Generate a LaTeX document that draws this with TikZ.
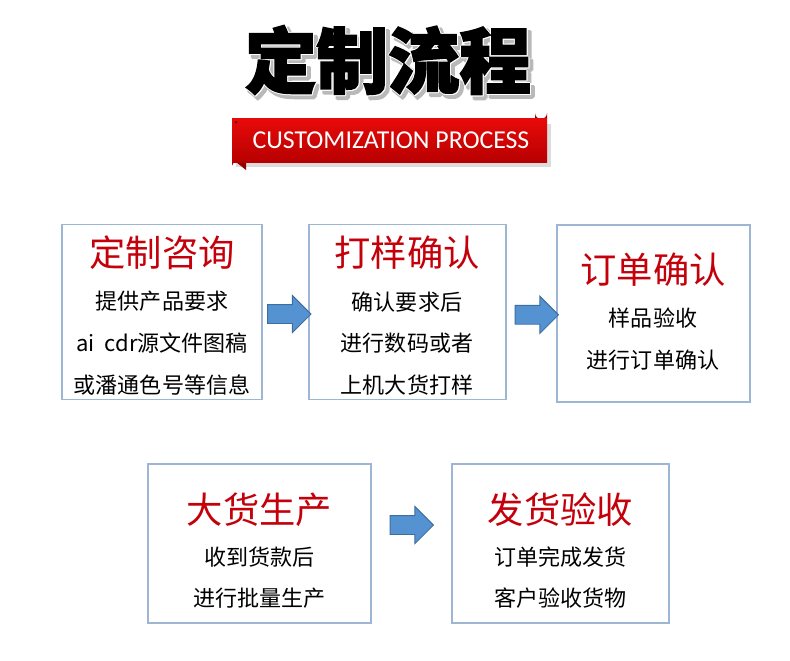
\documentclass[tikz,border=0pt]{standalone}
\usepackage{fontspec}
\usepackage{tikz}
\usetikzlibrary{shapes,arrows.meta,positioning,calc}
\usepackage{xcolor}
\setmainfont{Carlito}
\newfontfamily\cjk{Noto Sans CJK SC}
\newfontfamily\cjkhead[BoldFeatures={FakeBold=2.5}]{Noto Sans CJK SC}

\definecolor{boxline}{HTML}{9DB6D4}
\definecolor{headred}{HTML}{C4000B}
\definecolor{arrowfill}{HTML}{5592D2}
\definecolor{arrowline}{HTML}{3E6E9F}
\definecolor{ribbontop}{HTML}{E80A0A}
\definecolor{ribbonbot}{HTML}{B80000}

\tikzset{
  stepbox/.style={draw=boxline, line width=1.3pt, fill=white, inner sep=0pt},
  stephead/.style={font=\cjk\fontsize{31}{31}\selectfont, text=headred, inner sep=0pt},
  steptext/.style={font=\cjk\fontsize{18.8}{18.8}\selectfont, inner sep=0pt},
  bigtitle/.style={font=\cjkhead\bfseries\fontsize{61}{61}\selectfont},
  flowarrow/.style={single arrow, draw=arrowline, fill=arrowfill, line width=0.8pt,
    inner sep=0.27cm, minimum height=1.3cm, single arrow head extend=0.27cm}
}

\begin{document}
\begin{tikzpicture}[x=0.03cm, y=-0.03cm]
    % Page (white background fixes the size)
    \fill[white] (0,0) rectangle (790,660);
    \useasboundingbox (0,0) rectangle (790,660);

    % Heading with grey and white outline
    \foreach \dx/\dy in {3/3, 4/2, 2/4, 4/4, 3/5, 5/3}
        \node[bigtitle, text=gray!55] at (388+\dx,60+\dy) {定制流程};
    \foreach \dx/\dy in {1/0, -1/0, 0/1, 0/-1, 1/1}
        \node[bigtitle, text=white] at (388+\dx,60+\dy) {定制流程};
    \node[bigtitle] (title) at (388,60) {定制流程};

    % Red ribbon
    \fill[gray!45, opacity=0.6] (236,124) rectangle (551,167);
    \fill[ribbonbot!80!black] (232,160) -- (232,166) arc[start angle=180, end angle=270, radius=4]
        -- (246,170) -- (246,160) -- cycle;
    \fill[ribbonbot!80!black] (535,118) -- (535,113) arc[start angle=180, end angle=0, radius=6]
        -- (547,118) -- cycle;
    \shade[top color=ribbontop, bottom color=ribbonbot] (232,118) rectangle (547,162);
    \fill[ribbonbot!60!black] (236,122) circle[radius=1.5];
    \node[font=\fontsize{22}{22}\selectfont, text=white] (banner) at (391,140) {CUSTOMIZATION PROCESS};

    % Step boxes
    \node[stepbox, minimum width=200*0.03cm, minimum height=175*0.03cm] (consult) at (162,312) {};
    \node[stepbox, minimum width=197*0.03cm, minimum height=175*0.03cm] (sample) at (407.5,312) {};
    \node[stepbox, minimum width=193*0.03cm, minimum height=177*0.03cm] (order) at (653.5,313.5) {};
    \node[stepbox, minimum width=223*0.03cm, minimum height=159*0.03cm] (produce) at (259.5,543.5) {};
    \node[stepbox, minimum width=217*0.03cm, minimum height=159*0.03cm] (deliver) at (560.5,543.5) {};

    % Texts of the boxes
    \node[stephead] (consult-h) at (162,253) {定制咨询};
    \node[steptext] (consult-1) at (162,301) {提供产品要求};
    \node[steptext] (consult-2) at (162,343) {ai\ \ cdr源文件图稿};
    \node[steptext] (consult-3) at (162,385) {或潘通色号等信息};

    \node[stephead] (sample-h) at (407,253) {打样确认};
    \node[steptext] (sample-1) at (407,302) {确认要求后};
    \node[steptext] (sample-2) at (407,343) {进行数码或者};
    \node[steptext] (sample-3) at (407,385) {上机大货打样};

    \node[stephead] (order-h) at (653,270) {订单确认};
    \node[steptext] (order-1) at (653,318) {样品验收};
    \node[steptext] (order-2) at (653,360) {进行订单确认};

    \node[stephead] (produce-h) at (259.5,510) {大货生产};
    \node[steptext] (produce-1) at (259.5,557) {收到货款后};
    \node[steptext] (produce-2) at (259.5,598) {进行批量生产};

    \node[stephead] (deliver-h) at (560.5,510) {发货验收};
    \node[steptext] (deliver-1) at (560.5,557) {订单完成发货};
    \node[steptext] (deliver-2) at (560.5,598) {客户验收货物};

    % Block arrows between the boxes
    \node[flowarrow] (a1) at ($(consult.east)!0.5!(sample.west)+(-1,2)$) {};
    \node[flowarrow] (a2) at ($(sample.east)!0.5!(order.west)+(0.5,2)$) {};
    \node[flowarrow] (a3) at ($(produce.east)!0.5!(deliver.west)+(-4.5,-18.5)$) {};
\end{tikzpicture}
\end{document}
